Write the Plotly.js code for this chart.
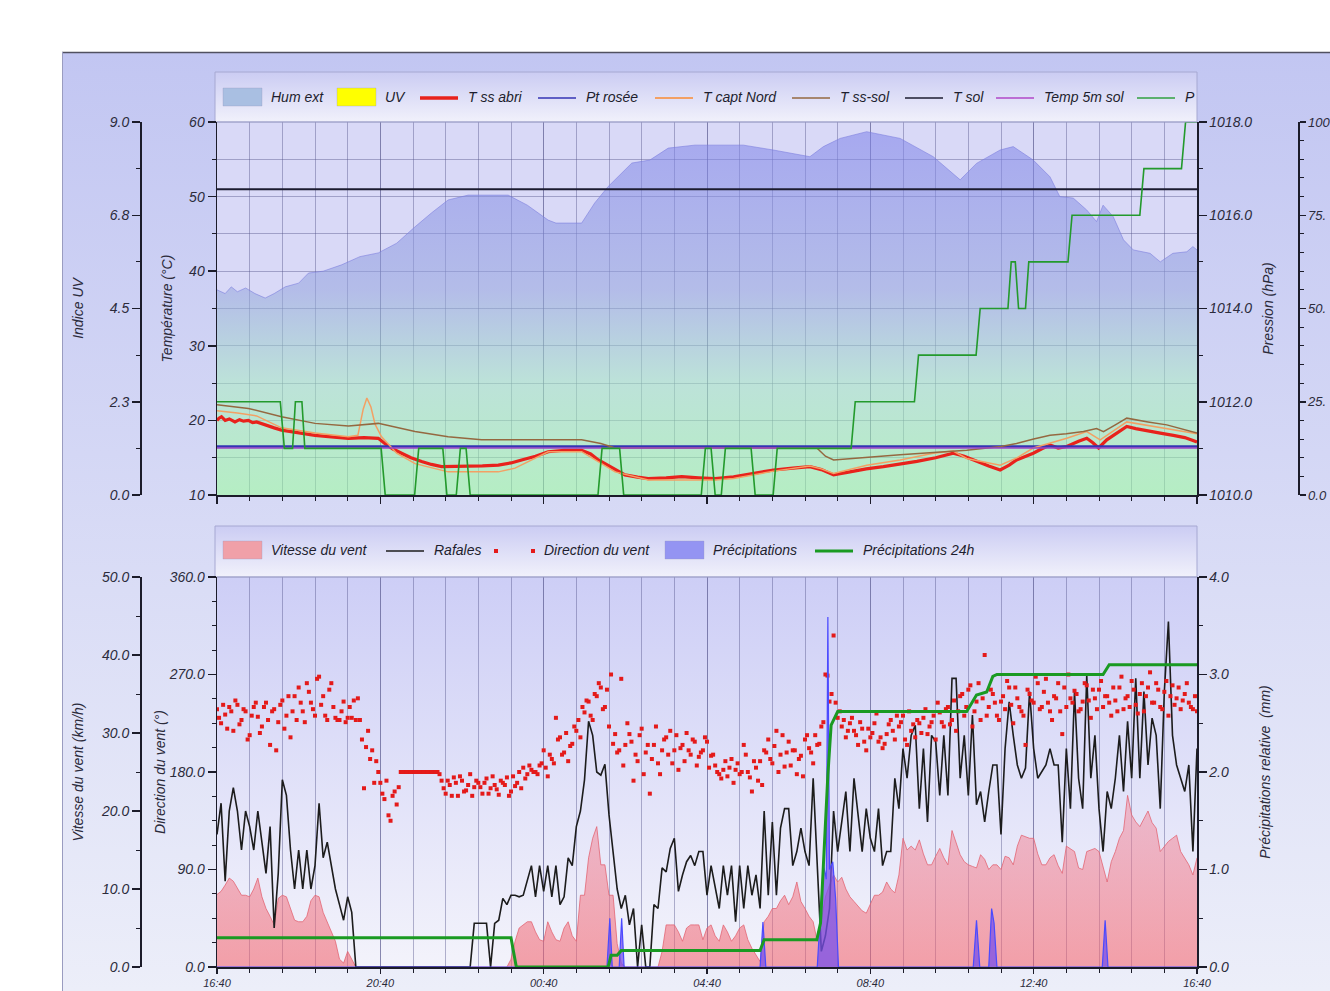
<!DOCTYPE html>
<html>
<head>
<meta charset="utf-8">
<script src="https://cdn.plot.ly/plotly-3.0.1.min.js"></script>
<style>
html,body{margin:0;padding:0;background:#ffffff;}
#chart{width:1330px;height:991px;}
</style>
</head>
<body>
<div id="chart"></div>
<script>
// ---------------- DATA (hours since 16:40) ----------------
const timeTickVals   = [0, 4, 8, 12, 16, 20, 24];
const timeTickLabels = ['16:40', '20:40', '00:40', '04:40', '08:40', '12:40', '16:40'];

const uvTickVals = [0, 2.25, 4.5, 6.75, 9];
const uvTickText = ['0.0', '2.3', '4.5', '6.8', '9.0'];
// far right axes: labels as far as they are visible at the picture's edge
const humTickVals = [0, 25, 50, 75, 100];
const humTickText = ['0.0', '25.', '50.', '75.', '100'];
const rightTickVals = [0, 5, 10, 15, 20];
const rightTickText = ['0.0', '5.0', '10.', '15.', '20.'];

// Humidité extérieure (%)
const humT = [0,0.2,0.35,0.5,0.7,0.93,1.18,1.4,1.67,2.0,2.24,2.6,3.05,3.5,3.95,4.4,4.85,5.25,5.66,6.15,7.13,7.6,8.11,8.3,8.93,9.25,9.58,10.16,10.6,11.05,11.7,12.89,13.62,14.52,14.85,15.26,15.91,16.73,17.54,18.2,18.6,19.18,19.5,19.99,20.4,20.64,20.97,21.3,21.54,21.7,21.95,22.2,22.44,22.85,23.1,23.41,23.75,23.9,24];
const humV = [55,54,55.8,54.5,55.5,54,52.8,54,55.8,56.8,59.5,60,61.7,63.9,64.9,67.5,71.9,75.6,79.1,80.4,80.4,77.7,73.7,72.9,72.9,78.3,82.7,89,89.8,93,93.8,93.8,92.5,90.7,93.4,95.6,97.4,95.6,90.7,84.5,88.9,92.5,93.4,89.8,85.3,80,79.6,76.4,73.3,77.7,74.6,68.4,65.7,64.8,62.5,64.8,65.2,66.6,65.7];

// UV index (none during the period)
const uvT = [0, 24];
const uvV = [0, 0];

// T ss abri (°C)
const tAbriT = [0,0.05,0.11,0.2,0.3,0.44,0.55,0.65,0.77,0.87,0.97,1.17,1.4,1.58,1.8,1.99,2.2,2.4,2.8,3.22,3.6,3.95,4.11,4.3,4.52,4.75,5.01,5.25,5.5,6.07,6.5,6.89,7.2,7.46,7.8,8.11,8.5,8.93,9.15,9.34,9.7,9.99,10.3,10.56,11.0,11.38,11.8,12.2,12.65,13.2,13.63,14.1,14.52,14.8,15.1,15.5,15.9,16.32,16.7,17.14,17.6,18.03,18.3,18.6,18.9,19.18,19.4,19.58,19.8,19.99,20.2,20.4,20.6,20.81,21.1,21.3,21.45,21.59,21.79,22.0,22.28,22.5,22.85,23.1,23.42,23.7,24];
const tAbriV = [20.0,20.3,20.5,20.0,20.2,19.8,20.1,19.9,20.0,19.7,19.8,19.4,19.0,18.7,18.5,18.3,18.1,18.0,17.8,17.6,17.7,17.6,16.9,16.2,15.6,15.0,14.5,14.1,13.8,13.8,13.9,14.0,14.3,14.7,15.2,15.8,16.0,16.0,15.5,14.7,13.6,12.7,12.4,12.2,12.3,12.45,12.3,12.2,12.45,12.9,13.35,13.6,13.8,13.4,12.7,13.1,13.5,13.8,14.1,14.5,15.0,15.6,15.2,14.5,13.9,13.35,14.0,14.7,15.2,15.6,16.2,16.7,16.3,16.5,17.2,17.6,17.0,16.3,17.4,18.2,19.2,18.9,18.5,18.3,18.0,17.7,17.1];

// Point de rosée / Temp 5m sol / T sol (°C)
const dewT = [0, 24];   const dewV = [16.5, 16.5];
const t5mT = [0, 24];   const t5mV = [16.3, 16.3];
const tSolT = [0, 24];  const tSolV = [51, 51];

// T capt Nord (°C)
const tNordT = [0,0.5,0.97,1.58,2.4,3.22,3.45,3.58,3.67,3.77,3.87,4.03,4.4,4.85,5.66,6.89,7.3,8.11,8.93,9.3,9.75,10.56,12.2,12.65,13.63,14.52,14.8,15.1,15.91,16.73,17.54,18.03,18.36,19.18,19.6,19.99,20.81,21.3,21.63,22.28,23.26,24];
const tNordV = [21.3,21.0,20.6,19.0,18.3,17.8,18.0,21.5,23.0,21.8,19.5,17.8,15.6,14.2,13.1,13.1,13.6,15.8,15.8,14.6,13.1,12.0,12.0,12.2,13.2,13.9,13.5,12.9,14.0,14.7,15.6,15.9,14.9,14.0,15.0,16.3,17.6,18.5,17.4,19.8,18.9,18.2];

// T ss-sol (°C)
const tSsSolT = [0,0.77,1.58,2.4,3.22,3.95,4.85,5.66,6.48,8.93,9.4,9.75,12.2,14.69,14.9,15.1,16.73,18.36,19.2,19.58,20.0,20.4,20.8,21.22,21.54,21.71,22.0,22.28,22.8,23.26,24];
const tSsSolV = [22.1,21.6,20.5,19.6,19.25,19.6,18.5,17.8,17.4,17.4,16.9,16.3,16.3,16.3,15.2,14.7,15.4,16.0,16.5,16.9,17.5,18.0,18.2,18.5,18.9,18.5,19.4,20.3,19.8,19.4,18.3];

// Pression (hPa)
const presT = [0,1.55,1.65,1.85,1.92,2.08,2.15,4.02,4.12,4.84,4.94,5.53,5.63,5.86,5.96,6.1,6.2,9.33,9.43,9.86,9.96,11.86,11.96,12.1,12.2,12.35,12.45,13.08,13.18,13.62,13.72,15.53,15.63,17.08,17.18,18.59,18.69,19.37,19.45,19.55,19.63,19.8,19.88,20.84,20.94,22.6,22.7,23.62,23.72,24];
const presV = [1012,1012,1011,1011,1012,1012,1011,1011,1010,1010,1011,1011,1010,1010,1011,1011,1010,1010,1011,1011,1010,1010,1011,1011,1010,1010,1011,1011,1010,1010,1011,1011,1012,1012,1013,1013,1014,1014,1015,1015,1014,1014,1015,1015,1016,1016,1017,1017,1018,1018];

// Wind: one sample every 6 minutes (0.1 h), from 16:40 to 16:40
const windStepH = 0.1;
const windSpeed = [
 9.3,9.7,10.5,11.4,11,10,9.2,9.2,9,10,
 11.4,9,7.5,6.5,5.4,8.8,9.2,9,7.5,6,
 5.8,5.8,6.5,8.5,9.2,9,7,5.8,4.5,3.3,
 1,0.5,2,1,0,0,0,0,0,0,
 0,0,0,0,0,0,0,0,0,0,
 0,0,0,0,0,0,0,0,0,0,
 0,0,0,0,0,0,0,0,0,0,
 0,0,1,3.3,5,5.4,5.8,5.8,4.5,3.5,
 3.3,5.8,4.5,3.5,3.3,5,5.8,4,3.3,9.2,
 9.2,14,16.5,18,13.1,13.1,9.2,9.2,3,0.5,
 0,0,0,0,0,0,0,0,0,2,
 5.4,5.4,5.4,4.5,3.3,5,5.4,5.4,5.4,3.5,
 5,5.4,4,3.3,5.4,4.5,3.3,4,5,5.4,
 3.5,2.4,1.5,0.7,5.8,6.5,7.5,7.5,8.5,9.2,
 8,9,10.9,8.4,7.5,6.5,5.8,3.3,6,9,
 10.5,11.8,10.9,11.5,10,9,8.4,7.8,7.2,6.9,
 8,9.2,9.2,9.6,10.9,10,9.5,11.8,16.5,15,
 15.5,15,16.3,14.5,13.1,13.1,14.2,15.2,14,13.1,
 17.5,16,14.4,13.5,13.1,12.9,12.7,14.4,13.8,12.5,
 13.1,13.1,12.5,14.2,14,13.1,15.5,16.9,16.7,16.5,
 16.5,14.5,13.1,13.1,14,14.4,13,12,15.5,15.2,
 14.8,12.7,12.5,14.8,15,15.2,14.8,13,10.9,13.5,
 14.8,16.5,17.5,22,19.5,18.6,18,19,20,18.5,
 17.8,14.8,15.5,16.1,16.5,16.9,14.8,14,13.1,11.8,
 14];
const windGust = [
 17,21,11,20,23,20,15,20,18,15,
 20,16,12,18,5,12,24,22,15,10,
 15,10,15,10,13,21,14,16,13,10,
 8,6,9,7,0,0,0,0,0,0,
 0,0,0,0,0,0,0,0,0,0,
 0,0,0,0,0,0,0,0,0,0,
 0,0,0,5.6,5.6,5.6,5.6,0,5.6,6,
 8.8,8,9.2,9.2,9,9.2,11,13,9,13,
 9.7,13,9,13,8,9,14,13,18,20,
 24,31.5,29.7,25,24.6,26,19.5,14.8,10,7.5,
 9.2,5.4,7.5,0,5.4,0,0,8,7.5,12.7,
 12.2,15.2,16.5,9.7,11.8,13.5,14.3,13,14.8,14.8,
 9.2,13,10,7.5,13,9.2,13,5.8,13,7.5,
 13,9.2,11.8,7.5,20,9.2,18.6,9.2,17.8,20.3,
 20.3,13,14.8,17.8,14.8,13,24.2,13,2,4,
 7.5,20,14.8,18.6,22.5,14.8,24.2,19.5,14.8,20.3,
 16.5,14.8,20.3,13,14.8,14.8,24.2,20.3,28,24.2,
 29.7,31,20.3,28,18.6,29.7,28.9,22,29.7,22,
 37,37,24.2,29.7,22,32.3,20.8,22.5,18.6,22.5,
 25.9,25.9,17,28,34,29.7,25.9,24.2,25.5,35.3,
 28,24.2,25,25.9,28,25.9,25.9,16,28,20.3,
 35.3,24.2,20.3,37.4,24.2,29.7,20.3,14.8,22.5,20.3,
 24.2,29.7,22.5,31.5,24.2,37,24.2,35.3,25.9,31.9,
 29.7,20.3,35.3,44.3,29.7,25.9,24.2,22.5,25.9,14.8,
 28];
// Direction du vent (°) on the 6-minute grid
const windDir = [
 238,225,233,240,218,242,228,236,214,240,
 231,222,244,205,238,226,246,232,212,250,
 258,236,262,244,232,268,250,228,262,230,
 228,245,230,230,228,228,165,218,200,190,
 170,155,140,158,150,180,180,180,180,180,
 180,180,180,180,180,172,160,168,175,158,
 172,163,178,166,170,160,174,165,168,159,
 170,175,162,167,180,184,178,182,180,186,
 200,176,192,230,212,198,190,206,218,212,
 235,245,228,250,258,240,222,206,198,266,
 205,215,172,190,220,198,160,205,188,200,
 212,218,200,182,205,216,196,208,194,200,
 208,195,186,178,182,176,192,182,178,205,
 180,162,184,190,200,210,188,218,196,185,
 208,200,178,195,210,202,188,205,222,270,
 245,306,230,222,212,225,218,205,220,200,
 212,225,208,202,215,228,210,222,232,205,
 218,212,225,230,215,226,210,235,222,240,
 228,218,250,232,256,222,245,228,288,240,
 252,232,245,238,258,225,248,236,205,252,
 244,262,240,266,236,250,262,215,240,248,
 255,236,245,260,230,248,256,240,250,232,
 246,258,238,250,264,242,252,236,258,244,
 262,240,254,232,260,248,238,252,244,238,
 236];
// Direction du vent (°) between those samples (0:03 after each)
const windDirMid = [
 230,242,220,236,246,224,238,210,232,244,
 216,240,228,236,200,242,220,250,236,228,
 244,226,254,238,266,242,232,256,240,228,
 236,226,240,246,248,210,203,192,170,180,
 160,172,135,162,166,180,180,180,180,180,
 180,180,180,180,178,165,172,158,170,176,
 162,168,158,172,166,170,160,176,164,172,
 168,158,176,170,165,174,186,180,178,188,
 184,196,188,210,196,216,204,222,228,240,
 246,232,252,262,238,256,270,215,200,186,
 225,208,196,214,178,205,192,222,178,210,
 196,188,214,202,190,200,210,186,198,212,
 184,196,180,174,190,184,170,188,180,196,
 175,190,172,168,198,192,204,180,214,198,
 186,200,192,176,214,198,214,206,226,269,
 252,244,236,228,218,230,214,226,208,220,
 216,234,212,206,224,218,232,226,210,236,
 224,228,216,238,222,232,244,226,238,224,
 246,236,252,240,260,236,262,248,232,256,
 244,228,250,264,242,258,240,232,256,246,
 268,238,254,244,228,248,236,258,270,244,
 252,238,262,246,256,238,264,250,244,258,
 236,268,248,240,256,234,262,250,272,244,
 256,238,264,250,242,258,246,262,240,250];

// Précipitations (mm)
const rainT = [0,9.55,9.62,9.68,9.85,9.91,9.97,13.3,13.37,13.44,14.7,14.78,14.85,14.92,14.96,15.0,15.08,15.15,15.22,18.52,18.6,18.68,18.9,18.97,19.03,19.1,21.68,21.75,21.82,24];
const rainV = [0,0,0.5,0,0,0.5,0,0,0.46,0,0,0.6,1.05,0.9,3.59,1.0,1.08,0.7,0,0,0.48,0,0,0.6,0.45,0,0,0.48,0,0];
// Précipitations 24h (mm)
const rain24T = [0,7.2,7.33,9.58,9.65,9.8,9.9,13.3,13.4,14.69,14.78,14.88,14.96,15.04,15.2,18.36,18.6,18.85,19.0,19.1,21.7,21.85,24];
const rain24V = [0.3,0.3,0,0,0.12,0.12,0.17,0.17,0.28,0.28,0.45,1.28,1.97,2.48,2.62,2.62,2.79,2.82,2.98,3.0,3.0,3.1,3.1];

// legend labels
const topLegendLabels = ['Hum ext','UV','T ss abri','Pt rosée','T capt Nord','T ss-sol','T sol','Temp 5m sol','P'];
const botLegendLabels = ['Vitesse du vent','Rafales','Direction du vent','Précipitations','Précipitations 24h'];

// ---------------- LAYOUT HELPERS ----------------
const W = 1330, H = 991;
const px = x => x / W;
const py = y => 1 - y / H;
const windTimes = windSpeed.map((_, i) => +(i * windStepH).toFixed(2));
const windTimesMid = windDirMid.map((_, i) => +(i * windStepH + windStepH / 2).toFixed(2));

const FONT = 'Liberation Sans, Arial, sans-serif';
const tickFont = {family: FONT, size: 14, color: '#2b2b3b', style: 'italic'};
const edgeTickFont = {family: FONT, size: 13, color: '#2b2b3b', style: 'italic'};
const xTickFont = {family: FONT, size: 11, color: '#2b2b3b', style: 'italic'};
const titleFont = {family: FONT, size: 14, color: '#2b2b3b', style: 'italic'};
const legendFont = {family: FONT, size: 14, color: '#1e1e2e', style: 'italic'};
const axisColor = '#1c1c2a';
const gridColor = 'rgba(80,80,135,0.42)';

const xDom = [px(217), px(1197)];
const topDom = [py(495), py(122)];
const botDom = [py(967), py(577)];

function vGrad(top, bottom) {
  const svg = '<svg xmlns="http://www.w3.org/2000/svg" width="100" height="100" viewBox="0 0 100 100" preserveAspectRatio="none">' +
    '<defs><linearGradient id="g" x1="0" y1="0" x2="0" y2="1"><stop offset="0" stop-color="' + top + '"/>' +
    '<stop offset="1" stop-color="' + bottom + '"/></linearGradient></defs>' +
    '<rect x="0" y="0" width="100" height="100" fill="url(#g)"/></svg>';
  return 'data:image/svg+xml;base64,' + btoa(svg);
}
function imgBox(src, x0, y0, x1, y1) {
  return {source: src, xref: 'paper', yref: 'paper', x: px(x0), y: py(y0),
          sizex: (x1 - x0) / W, sizey: (y1 - y0) / H, xanchor: 'left', yanchor: 'top',
          sizing: 'stretch', layer: 'below'};
}

const xCommon = {
  range: [0, 24], domain: xDom, type: 'linear',
  tickmode: 'array', tickvals: timeTickVals, ticktext: timeTickLabels,
  ticks: 'outside', ticklen: 6, tickwidth: 1.5, tickcolor: axisColor,
  showline: true, linecolor: axisColor, linewidth: 1.5,
  showgrid: true, gridcolor: gridColor, gridwidth: 1, zeroline: false,
  minor: {tickmode: 'linear', tick0: 0, dtick: 0.8, ticks: 'outside', ticklen: 4,
          tickcolor: axisColor, tickwidth: 1, showgrid: true, gridcolor: gridColor, gridwidth: 1},
  tickfont: xTickFont, automargin: false, fixedrange: true
};
const yCommon = {
  showline: true, linecolor: axisColor, linewidth: 1.5,
  ticks: 'outside', ticklen: 8, tickwidth: 1.5, tickcolor: axisColor,
  showgrid: false, zeroline: false, tickfont: tickFont, automargin: false, fixedrange: true
};
const minorT = (d, t0) => ({tickmode: 'linear', tick0: t0, dtick: d, ticks: 'outside', ticklen: 4, tickcolor: axisColor, tickwidth: 1});

// ---------------- TRACES ----------------
const traces = [
  // top plot
  {x: humT, y: humV, xaxis: 'x', yaxis: 'y', type: 'scatter', mode: 'lines', name: 'Hum ext',
   fill: 'tozeroy', line: {color: 'rgba(120,122,220,0.55)', width: 1},
   fillgradient: {type: 'vertical', start: 0, stop: 100,
     colorscale: [[0, 'rgba(152,255,153,0.55)'], [0.3, 'rgba(165,234,192,0.55)'], [0.55, 'rgba(149,165,221,0.55)'], [1, 'rgba(124,127,234,0.55)']]}},
  {x: tAbriT, y: tAbriV, xaxis: 'x', yaxis: 'y2', type: 'scatter', mode: 'lines', name: 'T ss abri',
   line: {color: '#e8221c', width: 3.2}},
  {x: dewT, y: dewV, xaxis: 'x', yaxis: 'y2', type: 'scatter', mode: 'lines', name: 'Pt rosée',
   line: {color: '#3434b4', width: 2.5}},
  {x: tNordT, y: tNordV, xaxis: 'x', yaxis: 'y2', type: 'scatter', mode: 'lines', name: 'T capt Nord',
   line: {color: '#f3a064', width: 1.5}},
  {x: tSsSolT, y: tSsSolV, xaxis: 'x', yaxis: 'y2', type: 'scatter', mode: 'lines', name: 'T ss-sol',
   line: {color: '#956840', width: 1.5}},
  {x: tSolT, y: tSolV, xaxis: 'x', yaxis: 'y2', type: 'scatter', mode: 'lines', name: 'T sol',
   line: {color: '#1c1c30', width: 2}},
  {x: t5mT, y: t5mV, xaxis: 'x', yaxis: 'y2', type: 'scatter', mode: 'lines', name: 'Temp 5m sol',
   line: {color: '#9a44c4', width: 1.5}},
  {x: uvT, y: uvV, xaxis: 'x', yaxis: 'y3', type: 'scatter', mode: 'lines', name: 'UV',
   fill: 'tozeroy', fillcolor: '#ffff00', line: {color: '#ffff00', width: 0}},
  {x: presT, y: presV, xaxis: 'x', yaxis: 'y4', type: 'scatter', mode: 'lines', name: 'P',
   line: {color: '#239a2c', width: 1.6}},
  // bottom plot
  {x: windTimes, y: windSpeed, xaxis: 'x2', yaxis: 'y5', type: 'scatter', mode: 'lines', name: 'Vitesse du vent',
   fill: 'tozeroy', line: {color: 'rgba(225,95,110,0.75)', width: 1},
   fillgradient: {type: 'vertical', start: 0, stop: 25,
     colorscale: [[0, 'rgba(242,90,100,0.55)'], [1, 'rgba(245,140,160,0.45)']]}},
  {x: windTimes, y: windGust, xaxis: 'x2', yaxis: 'y5', type: 'scatter', mode: 'lines', name: 'Rafales',
   line: {color: '#1c1c1c', width: 1.6}},
  {x: windTimes.concat(windTimesMid), y: windDir.concat(windDirMid), xaxis: 'x2', yaxis: 'y6', type: 'scatter', mode: 'markers', name: 'Direction du vent',
   marker: {symbol: 'square', size: 4, color: '#e41a1a', line: {width: 0}}},
  {x: rainT, y: rainV, xaxis: 'x2', yaxis: 'y7', type: 'scatter', mode: 'lines', name: 'Précipitations',
   fill: 'tozeroy', fillcolor: 'rgba(120,80,235,0.75)', line: {color: '#4a4aff', width: 1.2}},
  {x: rain24T, y: rain24V, xaxis: 'x2', yaxis: 'y7', type: 'scatter', mode: 'lines', name: 'Précipitations 24h',
   line: {color: '#1a9a22', width: 3}}
].map(t => Object.assign(t, {hoverinfo: 'skip', showlegend: false}));

// ---------------- LEGENDS (drawn as shapes + text) ----------------
const topLegendItems = [
  {kind: 'rect', color: '#a9bfe2', x: 223},
  {kind: 'rect', color: '#ffff00', x: 337},
  {kind: 'line', color: '#e8221c', w: 3.5, x: 420},
  {kind: 'line', color: '#3434b4', w: 1.5, x: 538},
  {kind: 'line', color: '#f3a064', w: 2, x: 655},
  {kind: 'line', color: '#956840', w: 1.5, x: 792},
  {kind: 'line', color: '#1c1c30', w: 1.5, x: 905},
  {kind: 'line', color: '#b048c8', w: 1.5, x: 996},
  {kind: 'line', color: '#30a040', w: 1.5, x: 1137}
];
const botLegendItems = [
  {kind: 'rect', color: '#f0a0a8', x: 223},
  {kind: 'line', color: '#1c1c1c', w: 1.5, x: 386},
  {kind: 'dots', color: '#e41a1a', x: 494},
  {kind: 'rect', color: '#9494f2', x: 665},
  {kind: 'line', color: '#1a9a22', w: 3, x: 815}
];

const shapes = [
  // top plot background
  {type: 'rect', xref: 'paper', yref: 'paper', x0: px(217), x1: px(1197), y0: py(495), y1: py(122),
   fillcolor: '#d9d9f7', line: {width: 0}, layer: 'below'},
  // panel borders
  {type: 'line', xref: 'paper', yref: 'paper', x0: px(62), x1: 1, y0: py(52.5), y1: py(52.5),
   line: {color: '#505060', width: 1.5}, layer: 'above'},
  {type: 'line', xref: 'paper', yref: 'paper', x0: px(62.5), x1: px(62.5), y0: 0, y1: py(52),
   line: {color: '#9a9cc0', width: 1}, layer: 'above'},
  // legend box borders
  {type: 'rect', xref: 'paper', yref: 'paper', x0: px(215), x1: px(1197), y0: py(122), y1: py(72),
   line: {color: '#a6a8d2', width: 1}, layer: 'below'},
  {type: 'rect', xref: 'paper', yref: 'paper', x0: px(215), x1: px(1197), y0: py(577), y1: py(526),
   line: {color: '#a6a8d2', width: 1}, layer: 'below'},
  // plot top edges
  {type: 'line', xref: 'paper', yref: 'paper', x0: px(217), x1: px(1197), y0: py(122), y1: py(122),
   line: {color: '#a0a2c8', width: 1}, layer: 'above'},
  {type: 'line', xref: 'paper', yref: 'paper', x0: px(217), x1: px(1197), y0: py(577), y1: py(577),
   line: {color: '#a0a2c8', width: 1}, layer: 'above'}
];
const annotations = [];

function addLegend(items, labels, yc) {
  items.forEach((it, i) => {
    const x = it.x;
    if (it.kind === 'rect') {
      shapes.push({type: 'rect', xref: 'paper', yref: 'paper', x0: px(x), x1: px(x + 39),
        y0: py(yc + 9), y1: py(yc - 9), fillcolor: it.color, line: {color: 'rgba(150,150,190,0.6)', width: 0.5}, layer: 'above'});
    } else if (it.kind === 'line') {
      shapes.push({type: 'line', xref: 'paper', yref: 'paper', x0: px(x), x1: px(x + 38),
        y0: py(yc + 1), y1: py(yc + 1), line: {color: it.color, width: it.w}, layer: 'above'});
    } else {
      [x, x + 37].forEach(dx => shapes.push({type: 'rect', xref: 'paper', yref: 'paper',
        x0: px(dx), x1: px(dx + 4), y0: py(yc + 3), y1: py(yc - 1), fillcolor: it.color, line: {width: 0}, layer: 'above'}));
    }
    const tx = it.kind === 'dots' ? x + 48 : x + 46;
    annotations.push({xref: 'paper', yref: 'paper', x: px(tx), y: py(yc), xanchor: 'left', yanchor: 'middle',
      text: labels[i], showarrow: false, font: legendFont});
  });
}
addLegend(topLegendItems, topLegendLabels, 97);
addLegend(botLegendItems, botLegendLabels, 550);

const layout = {
  width: W, height: H,
  margin: {l: 0, r: 0, t: 0, b: 0, pad: 0},
  paper_bgcolor: '#ffffff',
  plot_bgcolor: 'rgba(0,0,0,0)',
  showlegend: false,
  font: {family: FONT, size: 14, color: '#2b2b3b'},
  images: [
    imgBox(vGrad('#c2c6f2', '#eceef9'), 62, 52, 1330, 991),
    imgBox(vGrad('#cbccf3', '#f1f1fb'), 215, 72, 1197, 122),
    imgBox(vGrad('#cbccf3', '#f1f1fb'), 215, 526, 1197, 577),
    imgBox(vGrad('#cdcef6', '#f3f3fb'), 217, 577, 1197, 967)
  ],
  xaxis: Object.assign({}, xCommon, {anchor: 'y', showticklabels: false, ticklen: 7}),
  xaxis2: Object.assign({}, xCommon, {anchor: 'y5', ticklen: 5}),
  // humidity (base of top plot)
  yaxis: Object.assign({}, yCommon, {domain: topDom, anchor: 'free', position: px(1298), side: 'right',
    range: [0, 100], tickmode: 'array', tickvals: humTickVals, ticktext: humTickText,
    ticklen: 6, tickfont: edgeTickFont, minor: minorT(5, 0)}),
  yaxis2: Object.assign({}, yCommon, {overlaying: 'y', anchor: 'x', side: 'left', range: [10, 60],
    dtick: 10, tick0: 10, showgrid: true, gridcolor: gridColor,
    minor: Object.assign(minorT(5, 10), {showgrid: true, gridcolor: gridColor}),
    title: {text: 'Température (°C)', font: titleFont, standoff: 12}}),
  yaxis3: Object.assign({}, yCommon, {overlaying: 'y', anchor: 'free', position: px(140), side: 'left',
    range: [0, 9], tickmode: 'array', tickvals: uvTickVals, ticktext: uvTickText, minor: minorT(1.125, 0),
    title: {text: 'Indice UV', font: titleFont, standoff: 20}}),
  yaxis4: Object.assign({}, yCommon, {overlaying: 'y', anchor: 'x', side: 'right', range: [1010, 1018],
    dtick: 2, tick0: 1010, tickformat: '.1f', minor: minorT(1, 1010),
    title: {text: 'Pression (hPa)', font: titleFont, standoff: 12}}),
  // wind speed (base of bottom plot)
  yaxis5: Object.assign({}, yCommon, {domain: botDom, anchor: 'free', position: px(140), side: 'left',
    range: [0, 50], dtick: 10, tick0: 0, tickformat: '.1f', minor: minorT(5, 0),
    title: {text: 'Vitesse du vent (km/h)', font: titleFont, standoff: 12}}),
  yaxis6: Object.assign({}, yCommon, {overlaying: 'y5', anchor: 'x2', side: 'left', range: [0, 360],
    dtick: 90, tick0: 0, tickformat: '.1f', minor: minorT(22.5, 0),
    title: {text: 'Direction du vent (°)', font: titleFont, standoff: 0}}),
  yaxis7: Object.assign({}, yCommon, {overlaying: 'y5', anchor: 'x2', side: 'right', range: [0, 4],
    dtick: 1, tick0: 0, tickformat: '.1f', minor: minorT(0.5, 0),
    title: {text: 'Précipitations relative  (mm)', font: titleFont, standoff: 32}}),
  yaxis8: Object.assign({}, yCommon, {overlaying: 'y5', anchor: 'free', position: px(1298), side: 'right',
    range: [0, 20], tickmode: 'array', tickvals: rightTickVals, ticktext: rightTickText,
    ticklen: 6, tickfont: edgeTickFont, minor: minorT(2.5, 0)}),
  yaxis9: {overlaying: 'y5', anchor: 'x2', range: [0, 20], dtick: 1, tick0: 0, showgrid: true,
    gridcolor: gridColor, showticklabels: false, ticks: '', showline: false, zeroline: false,
    automargin: false, fixedrange: true},
  shapes: shapes,
  annotations: annotations
};

Plotly.newPlot('chart', traces, layout, {displayModeBar: false, staticPlot: true});
</script>
</body>
</html>
